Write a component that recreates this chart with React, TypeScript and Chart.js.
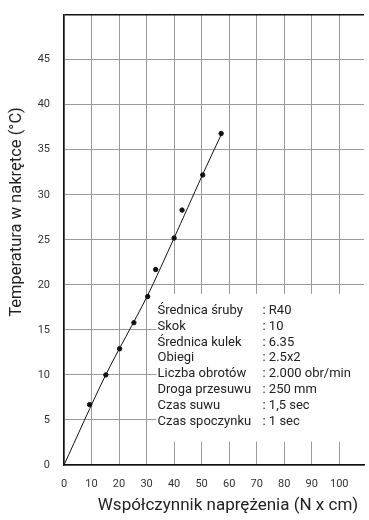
import React, { useEffect, useRef } from "react";
import { Chart, registerables } from "chart.js";

Chart.register(...registerables);

const pointX = [9.3, 15.2, 20.2, 25.4, 30.4, 33.3, 40.0, 42.9, 50.4, 57.1];
const pointY = [6.7, 10.0, 12.9, 15.8, 18.7, 21.7, 25.2, 28.3, 32.2, 36.8];

const fitX = [0, 15, 30, 40, 50, 57];
const fitY = [0, 9.9, 18.6, 25.2, 32, 36.6];

const xTicks = [0, 10, 20, 30, 40, 50, 60, 70, 80, 90, 100];
const yTicks = [0, 5, 10, 15, 20, 25, 30, 35, 40, 45, 50];

const xTitle = "Współczynnik naprężenia (N x cm)";
const yTitle = "Temperatura w nakrętce (°C)";

const infoLabels = [
  "Średnica śruby",
  "Skok",
  "Średnica kulek",
  "Obiegi",
  "Liczba obrotów",
  "Droga przesuwu",
  "Czas suwu",
  "Czas spoczynku",
];
const infoValues = [
  ": R40",
  ": 10",
  ": 6.35",
  ": 2.5x2",
  ": 2.000 obr/min",
  ": 250 mm",
  ": 1,5 sec",
  ": 1 sec",
];

const FONT = "Roboto, 'DejaVu Sans', sans-serif";
const SHIFT = 6;

const infoBox = {
  id: "infoBox",
  beforeDatasetsDraw(chart: any) {
    const ctx = chart.ctx;
    const x = chart.scales.x;
    const y = chart.scales.y;
    const left = x.getPixelForValue(33.6);
    const top = y.getPixelForValue(19.0);
    const bottom = y.getPixelForValue(2.6);
    ctx.save();
    ctx.fillStyle = "#ffffff";
    ctx.fillRect(left, top, chart.chartArea.right - left, bottom - top);
    ctx.fillStyle = "#222";
    ctx.font = "13px " + FONT;
    ctx.textBaseline = "middle";
    const lineH = 15.8;
    const startY = top + 17;
    infoLabels.forEach((lab, i) => {
      ctx.fillText(lab, left + 1, startY + i * lineH);
      ctx.fillText(infoValues[i], left + 106, startY + i * lineH);
    });
    ctx.restore();
  },
};

const axisTitles = {
  id: "axisTitles",
  afterDraw(chart: any) {
    const ctx = chart.ctx;
    ctx.save();
    ctx.fillStyle = "#222";
    ctx.textAlign = "center";
    ctx.textBaseline = "middle";
    ctx.font = "17px " + FONT;
    ctx.fillText(xTitle, 228, 506 + SHIFT);
    ctx.translate(17, 212 + SHIFT);
    ctx.rotate(-Math.PI / 2);
    ctx.font = "16.5px " + FONT;
    ctx.fillText(yTitle, 0, 0);
    ctx.restore();
  },
};

export default function App() {
  const ref = useRef<HTMLCanvasElement | null>(null);
  useEffect(() => {
    if (!ref.current) return;
    const chart = new Chart(ref.current, {
      type: "scatter",
      data: {
        datasets: [
          {
            type: "line",
            data: fitX.map((v, i) => ({ x: v, y: fitY[i] })),
            borderColor: "#111",
            borderWidth: 1,
            pointRadius: 0,
            tension: 0.3,
            fill: false,
          } as any,
          {
            data: pointX.map((v, i) => ({ x: v, y: pointY[i] })),
            backgroundColor: "#111",
            borderColor: "#111",
            pointRadius: 2.2,
          },
        ],
      },
      options: {
        animation: false,
        responsive: false,
        maintainAspectRatio: false,
        layout: { padding: { top: 8, right: 0, left: 0, bottom: 0 } },
        plugins: { legend: { display: false }, tooltip: { enabled: false } },
        scales: {
          x: {
            type: "linear",
            min: 0,
            max: 109,
            afterBuildTicks: (s: any) => {
              s.ticks = xTicks.map((v) => ({ value: v }));
            },
            afterFit: (s: any) => {
              s.height = 55;
            },
            grid: { color: "#9a9a9a", lineWidth: 1, drawTicks: false },
            border: { color: "#111", width: 1.5 },
            ticks: {
              padding: 13,
              color: "#333",
              font: { family: FONT, size: 11 },
              maxRotation: 0,
              autoSkip: false,
            },
          },
          y: {
            type: "linear",
            min: 0,
            max: 50,
            afterBuildTicks: (s: any) => {
              s.ticks = yTicks.map((v) => ({ value: v }));
            },
            afterFit: (s: any) => {
              s.width = 64;
            },
            grid: {
              color: (c: any) => (c.tick && c.tick.value === 50 ? "#111" : "#9a9a9a"),
              lineWidth: (c: any) => (c.tick && c.tick.value === 50 ? 1.5 : 1),
              drawTicks: false,
            },
            border: { color: "#111", width: 1.5 },
            ticks: {
              padding: 14,
              color: "#333",
              font: { family: FONT, size: 11 },
              autoSkip: false,
              callback: (v: any) => (v === 50 ? "" : String(v)),
            },
          },
        },
      },
      plugins: [infoBox, axisTitles],
    });
    return () => chart.destroy();
  }, []);
  return (
    <div
      style={{
        position: "absolute",
        left: 0,
        top: 0,
        width: 369,
        height: 520,
        overflow: "hidden",
        background: "#fff",
      }}
    >
      <canvas
        ref={ref}
        width={369}
        height={520 + SHIFT}
        style={{ display: "block", marginTop: -SHIFT }}
      />
    </div>
  );
}
